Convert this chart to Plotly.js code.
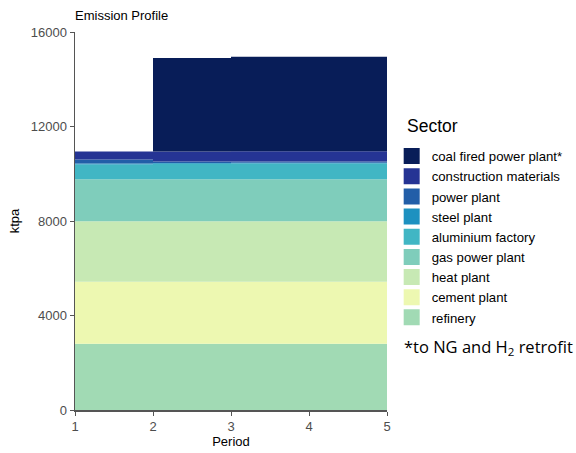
<!DOCTYPE html>
<html>
<head>
<meta charset="utf-8">
<script src="https://cdn.plot.ly/plotly-3.0.1.min.js"></script>
<style>html,body{margin:0;padding:0;background:#fff;}#chart{width:576px;height:453px;}</style>
</head>
<body>
<div id="chart"></div>
<script>
// Data
var periods = [1, 2, 3, 4, 5];
// bottom to top stacking order
var sectors = ["refinery", "cement plant", "heat plant", "gas power plant", "aluminium factory",
               "steel plant", "power plant", "construction materials", "coal fired power plant*"];
var refinery      = [2800, 2800, 2800, 2800, 2800];
var cementPlant   = [2630, 2630, 2630, 2630, 2630];
var heatPlant     = [2560, 2560, 2560, 2560, 2560];
var gasPowerPlant = [1780, 1780, 1780, 1780, 1780];
var aluminium     = [620, 650, 660, 660, 660];
var steelPlant    = [40, 40, 40, 40, 40];
var powerPlant    = [170, 60, 50, 50, 50];
var construction  = [340, 420, 430, 430, 430];
var coal          = [0, 3960, 4000, 4000, 4000];
var seriesValues = [refinery, cementPlant, heatPlant, gasPowerPlant, aluminium,
                    steelPlant, powerPlant, construction, coal];
var colors = ["#a1dab4", "#edf8b1", "#c7e9b4", "#7fcdbb", "#41b6c4",
              "#1d91c0", "#225ea8", "#253494", "#081d58"];

var traces = [];
for (var i = 0; i < sectors.length; i++) {
  traces.push({
    type: "scatter", mode: "lines", x: periods, y: seriesValues[i],
    stackgroup: "one", line: {width: 0, shape: "hv"},
    fillcolor: colors[i], name: sectors[i], showlegend: false, hoverinfo: "x+y+name"
  });
}
// legend entries (top to bottom)
for (var j = sectors.length - 1; j >= 0; j--) {
  traces.push({
    type: "scatter", mode: "markers", x: [null], y: [null], name: sectors[j],
    marker: {symbol: "square", size: 18, color: colors[j], line: {width: 0}},
    showlegend: true, hoverinfo: "skip"
  });
}

var layout = {
  width: 576, height: 453,
  margin: {l: 75, r: 189, t: 32, b: 43, autoexpand: false},
  paper_bgcolor: "#fff", plot_bgcolor: "#fff",
  font: {family: "Liberation Sans, Arial, sans-serif", color: "#000"},
  title: {text: "Emission Profile", x: 75/576, xanchor: "left", y: 1 - 15/453, yanchor: "middle",
          font: {size: 13, color: "#000"}},
  xaxis: {range: [1, 5], tickvals: [1, 2, 3, 4, 5], ticks: "outside", ticklen: 4, tickcolor: "#555",
          showline: true, linecolor: "#555", linewidth: 1.5, showgrid: false, zeroline: false,
          tickfont: {size: 13, color: "#4d4d4d"},
          title: {text: "Period", font: {size: 13, color: "#000"}, standoff: 4}},
  yaxis: {range: [0, 16000], dtick: 4000, tickformat: "d", ticks: "outside", ticklen: 4, tickcolor: "#555",
          showline: true, linecolor: "#555", linewidth: 1.5, showgrid: false, zeroline: false,
          tickfont: {size: 13, color: "#4d4d4d"},
          title: {text: "ktpa", font: {size: 13, color: "#000"}, standoff: 8}},
  legend: {x: 1.015, xanchor: "left", y: (410 - 141) / 378, yanchor: "top", traceorder: "normal",
           itemsizing: "trace", font: {size: 13.2, color: "#000"},
           bgcolor: "rgba(0,0,0,0)", tracegroupgap: 0},
  annotations: [{
    xref: "paper", yref: "paper", x: (405 - 75) / 312, y: (410 - 126) / 378,
    xanchor: "left", yanchor: "middle", showarrow: false, align: "left",
    text: "Sector", font: {size: 17.5, color: "#000"}
  }, {
    xref: "paper", yref: "paper", x: (402 - 75) / 312, y: (410 - 347) / 378,
    xanchor: "left", yanchor: "middle", showarrow: false, align: "left",
    text: "*to NG and H<sub>2</sub> retrofit", font: {family: "Open Sans, sans-serif", size: 16.5, color: "#000"}
  }]
};

Plotly.newPlot("chart", traces, layout, {displayModeBar: false, staticPlot: true});
</script>
</body>
</html>
